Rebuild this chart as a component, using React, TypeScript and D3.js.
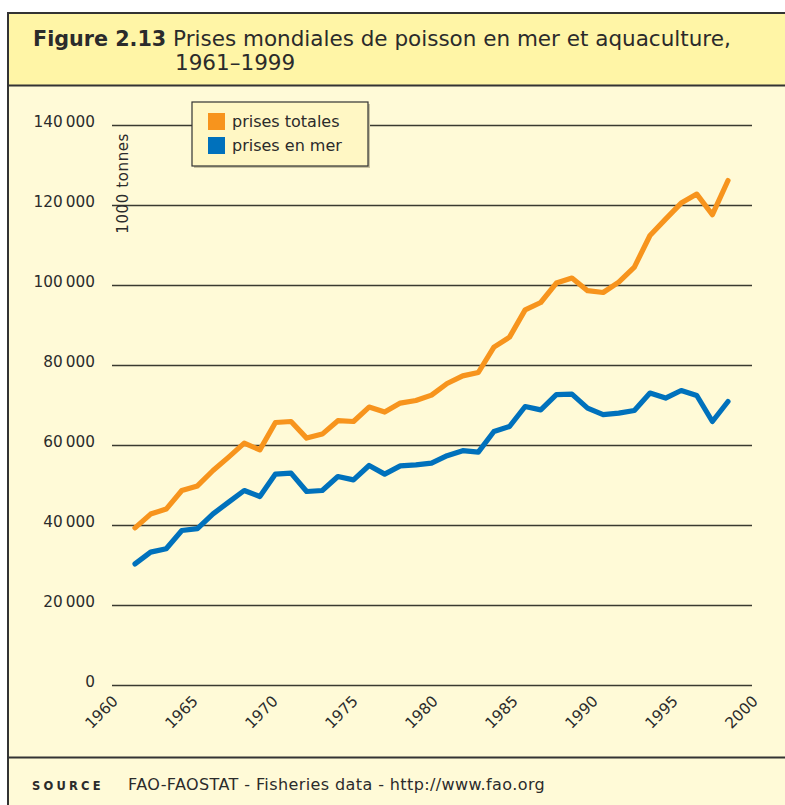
import React from "react";
import * as d3 from "d3";

const years: number[] = Array.from({ length: 39 }, (_, i) => 1961 + i);

const totalCatch: number[] = [
  39400, 42850, 44100, 48750, 49900, 53750, 57100, 60600, 58900, 65750,
  66000, 61850, 62850, 66200, 66000, 69600, 68350, 70600, 71250, 72600,
  75500, 77400, 78250, 84600, 87100, 93900, 95750, 100600, 101850, 98700,
  98250, 100850, 104600, 112500, 116600, 120600, 122850, 117700, 126250,
];

const marineCatch: number[] = [
  30400, 33350, 34200, 38750, 39200, 42900, 45850, 48750, 47250, 52850,
  53100, 48500, 48750, 52250, 51400, 55000, 52850, 54900, 55150, 55600,
  57450, 58700, 58350, 63500, 64750, 69750, 68900, 72700, 72850, 69350,
  67700, 68100, 68750, 73100, 71850, 73750, 72500, 66000, 71000,
];

const yTicks: number[] = [0, 20000, 40000, 60000, 80000, 100000, 120000, 140000];
const xTickYears: number[] = [1960, 1965, 1970, 1975, 1980, 1985, 1990, 1995, 2000];

const seriesNames: string[] = ["prises totales", "prises en mer"];
const seriesColors: string[] = ["#F7941D", "#0071BC"];

const FONT = "Verdana, 'DejaVu Sans', sans-serif";

const fmt = (v: number) => {
  if (v === 0) return "0";
  const s = String(v);
  return s.slice(0, s.length - 3) + "\u2009" + s.slice(s.length - 3);
};

export default function App() {
  const W = 785;
  const H = 805;
  const x = d3.scaleLinear().domain([1961, 1999]).range([135, 728]);
  const xLab = d3.scaleLinear().domain([1960, 2000]).range([119, 759]);
  const y = d3.scaleLinear().domain([0, 140000]).range([685.5, 125.5]);

  const line = d3
    .line<number>()
    .x((_, i) => x(years[i]))
    .y((d) => y(d));

  const ink = "#2b2b2b";

  return (
    <div style={{ position: "absolute", left: 0, top: 0 }}>
      <svg width={W} height={H} style={{ display: "block", fontFamily: FONT }}>
        <rect x={0} y={0} width={W} height={H} fill="#ffffff" />
        <rect x={8} y={13} width={W} height={H} fill="#FFFAD7" />
        <rect x={8} y={13} width={W} height={72} fill="#FFF5A6" />
        <line x1={8} x2={W} y1={13} y2={13} stroke="#333" strokeWidth={2} />
        <line x1={8} x2={8} y1={12} y2={H} stroke="#333" strokeWidth={2} />
        <line x1={8} x2={W} y1={85.5} y2={85.5} stroke="#333" strokeWidth={2} />
        <line x1={8} x2={W} y1={757.5} y2={757.5} stroke="#333" strokeWidth={2} />

        {/* title */}
        <text x={33} y={46} fill={ink}>
          <tspan fontWeight="bold" fontSize={20.7}>Figure 2.13</tspan>
          <tspan fontSize={21.5}> Prises mondiales de poisson en mer et aquaculture,</tspan>
        </text>
        <text x={175} y={70} fontSize={21.5} fill={ink}>
          1961–1999
        </text>

        {/* gridlines */}
        {yTicks.map((t) => (
          <g key={t}>
            <line x1={112} x2={752} y1={y(t)} y2={y(t)} stroke="#3a3a30" strokeWidth={1.4} />
            <text x={95} y={y(t) + 1.2} textAnchor="end" fontSize={15.3} fill={ink}>
              {fmt(t)}
            </text>
          </g>
        ))}

        {/* x tick labels */}
        {xTickYears.map((yr) => (
          <text
            key={yr}
            transform={`translate(${xLab(yr)},702) rotate(-45)`}
            textAnchor="end"
            fontSize={15.3}
            fill={ink}
          >
            {yr}
          </text>
        ))}

        {/* y axis unit */}
        <text
          transform={`translate(128,133) rotate(-90)`}
          textAnchor="end"
          fontSize={15}
          letterSpacing={0.6}
          fill={ink}
        >
          1000 tonnes
        </text>

        {/* lines */}
        <path
          d={line(totalCatch) || ""}
          fill="none"
          stroke={seriesColors[0]}
          strokeWidth={5.2}
          strokeLinejoin="round"
          strokeLinecap="round"
        />
        <path
          d={line(marineCatch) || ""}
          fill="none"
          stroke={seriesColors[1]}
          strokeWidth={5.2}
          strokeLinejoin="round"
          strokeLinecap="round"
        />

        {/* legend */}
        <rect x={194} y={104} width={176} height={64} fill="#c9c3a0" />
        <rect x={192} y={102} width={176} height={64} fill="#FFF7C4" stroke="#333" strokeWidth={1.2} />
        {seriesNames.map((n, i) => (
          <g key={n}>
            <rect x={208} y={113 + i * 24} width={17} height={17} fill={seriesColors[i]} />
            <text x={232} y={126.5 + i * 24} fontSize={16} fill={ink}>
              {n}
            </text>
          </g>
        ))}

        {/* source */}
        <text x={32} y={790} fontSize={11.5} fontWeight="bold" letterSpacing={3.2} fill={ink}>
          SOURCE
        </text>
        <text x={128} y={790} fontSize={16} letterSpacing={0.4} fill={ink}>
          FAO-FAOSTAT - Fisheries data - http://www.fao.org
        </text>
      </svg>
    </div>
  );
}
